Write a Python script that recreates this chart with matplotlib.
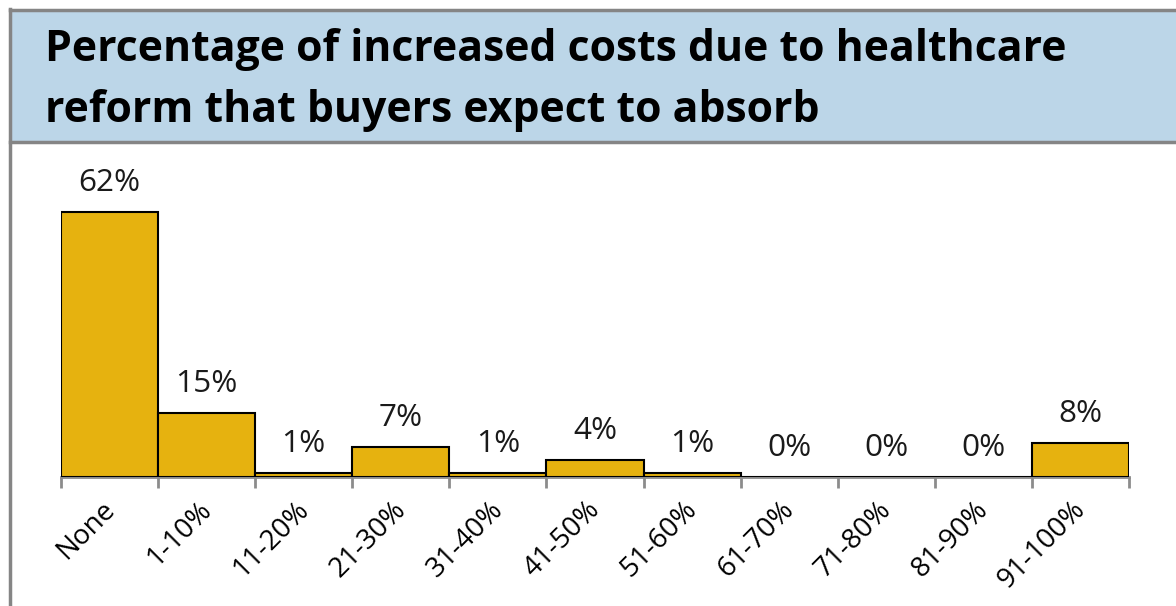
import matplotlib
matplotlib.use("Agg")
import matplotlib.pyplot as plt
from matplotlib.patches import Rectangle
from matplotlib.lines import Line2D
import matplotlib.transforms as mtransforms
import numpy as np

categories = ["None", "1-10%", "11-20%", "21-30%", "31-40%", "41-50%",
              "51-60%", "61-70%", "71-80%", "81-90%", "91-100%"]
values = [62, 15, 1, 7, 1, 4, 1, 0, 0, 0, 8]
title_lines = ["Percentage of increased costs due to healthcare",
               "reform that buyers expect to absorb"]

FAM = ["Open Sans", "DejaVu Sans"]
W, H = 1176, 606
fig = plt.figure(figsize=(W / 100, H / 100), dpi=100)
fig.patch.set_facecolor("white")
renderer = fig.canvas.get_renderer()


def fx(x):
    return x / W


def fy(y):
    return 1 - y / H


def fit_size(sample, target_px, weight="normal", base=20):
    t = fig.text(0, 0, sample, fontsize=base, family=FAM, fontweight=weight)
    w = t.get_window_extent(renderer).width
    t.remove()
    return base * target_px / w


# Title box
fig.patches.append(Rectangle((fx(10), fy(142)), fx(W) - fx(10), fy(10) - fy(142),
                             transform=fig.transFigure, facecolor="#BCD6E8",
                             edgecolor="none", zorder=0))
border = "#858585"
fig.lines.append(Line2D([fx(9.5), 1], [fy(10), fy(10)], transform=fig.transFigure,
                        color=border, lw=2.5))
fig.lines.append(Line2D([fx(9.5), 1], [fy(142), fy(142)], transform=fig.transFigure,
                        color=border, lw=2.5))
fig.lines.append(Line2D([fx(9.5), fx(9.5)], [fy(8.8), 0], transform=fig.transFigure,
                        color=border, lw=2.5))

title_size = fit_size(title_lines[0], 1020, weight="bold")
fig.text(fx(45), fy(61), title_lines[0], fontsize=title_size, fontweight="bold",
         family=FAM, color="black", va="baseline", ha="left")
fig.text(fx(45), fy(122), title_lines[1], fontsize=title_size, fontweight="bold",
         family=FAM, color="black", va="baseline", ha="left")

label_size = fit_size("62%", 62)
tick_size = fit_size("None", 70)

# Axes
top_px = 150
base_px = 477
ax = fig.add_axes([fx(61), fy(base_px), fx(1129) - fx(61), fy(top_px) - fy(base_px)])
ymax = 62 * (base_px - top_px) / (base_px - 212)
ax.set_ylim(0, ymax)
ax.set_xlim(-0.5, len(categories) - 0.5)

x = np.arange(len(categories))
ax.bar(x, values, width=1.0, color="#E6B20F", edgecolor="black", linewidth=1.5, zorder=3)

for xi, v in zip(x, values):
    ax.annotate(f"{v}%", (xi, v), xytext=(0, 10), textcoords="offset points",
                ha="center", va="bottom", fontsize=label_size, family=FAM,
                color="#1a1a1a")

for s in ["top", "right", "left"]:
    ax.spines[s].set_visible(False)
ax.spines["bottom"].set_color("#8C8C8C")
ax.spines["bottom"].set_linewidth(2)
ax.set_yticks([])

ax.set_xticks(np.arange(-0.5, len(categories), 1.0), minor=False)
ax.set_xticklabels([])
ax.tick_params(axis="x", which="major", length=8, width=2, color="#8C8C8C")
ax.set_xticks(x, minor=True)
ax.set_xticklabels(categories, minor=True, rotation=45, ha="right",
                   rotation_mode="anchor", fontsize=tick_size,
                   family=FAM, color="black")
ax.tick_params(axis="x", which="minor", length=0, pad=15)
shift = mtransforms.ScaledTranslation(-9 / 100, 2 / 100, fig.dpi_scale_trans)
for lbl in ax.get_xticklabels(minor=True):
    lbl.set_transform(lbl.get_transform() + shift)

fig.savefig("out.png", dpi=100, facecolor="white")
